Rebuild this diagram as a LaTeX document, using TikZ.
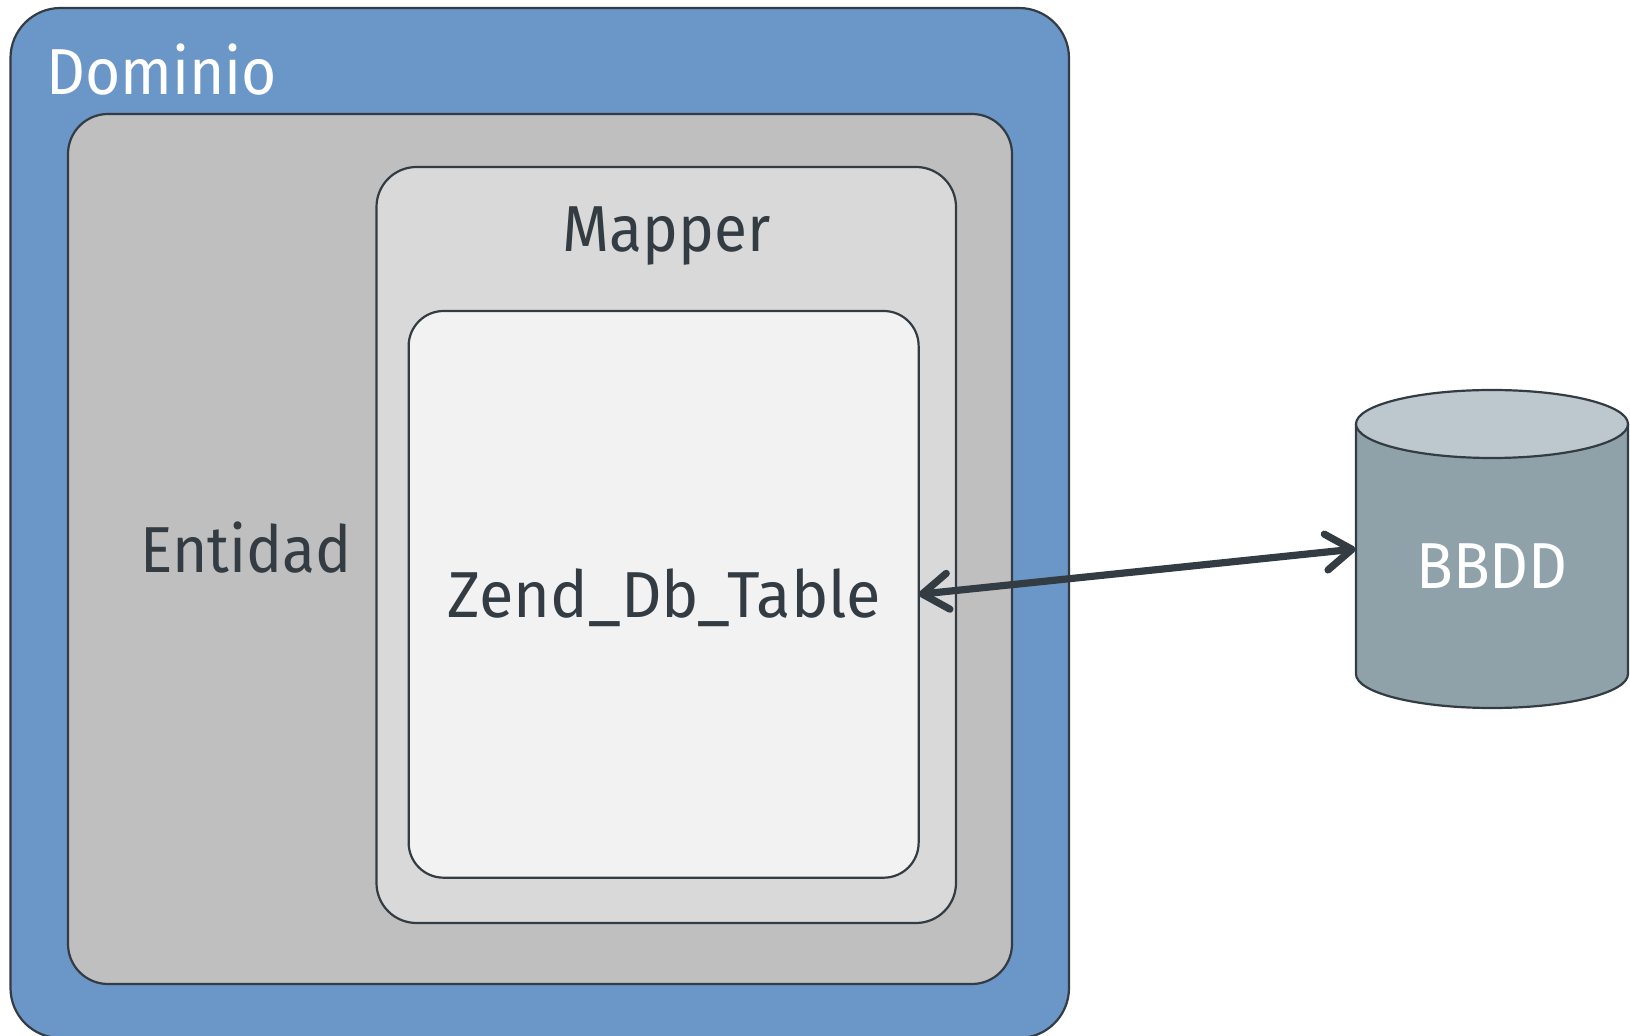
\documentclass[tikz,border=0pt]{standalone}
\usepackage{fontspec}
\setmainfont[FakeStretch=0.93]{Fira Sans}
\newfontfamily\tablefont[FakeStretch=0.97]{Fira Sans}
\usetikzlibrary{arrows.meta}
\definecolor{domblue}{HTML}{6B96C8}
\definecolor{entgray}{HTML}{BFBFBF}
\definecolor{mapgray}{HTML}{D9D9D9}
\definecolor{zendgray}{HTML}{F2F2F2}
\definecolor{edge}{HTML}{333C42}
\definecolor{dbbody}{HTML}{8FA2A9}
\definecolor{dbtop}{HTML}{BCC8CD}
\tikzset{
  layer/.style={draw=edge, line width=1.1pt, inner sep=0pt, outer sep=0pt},
  label/.style={inner sep=0pt, font=\fontsize{32.5}{39}\selectfont},
  barb/.tip={Straight Barb[length=13pt,width=18pt,round]},
  link/.style={draw=edge, line width=3.6pt, line cap=round, {barb}-{barb}}
}
\begin{document}
\begin{tikzpicture}[x=0.5pt,y=0.5pt]
\useasboundingbox (0,0) rectangle (1630,1035);
\clip (0,0) rectangle (1630,1035);
\fill[white] (0,0) rectangle (1630,1035);

% nested layers
\node[layer, fill=domblue, rounded corners=25pt, minimum width=529.25pt, minimum height=515pt] (dominio) at (539.75,512) {};
\node[layer, fill=entgray, rounded corners=20pt, minimum width=472pt, minimum height=435pt] (entidad) at (540,486) {};
\node[layer, fill=mapgray, rounded corners=20pt, minimum width=289.75pt, minimum height=378pt] (mapper) at (666.25,490) {};
\node[layer, fill=zendgray, rounded corners=17.5pt, minimum width=255pt, minimum height=283.35pt] (zend) at (663.65,440.65) {};

% layer titles
\node[label, text=white, anchor=base west] (domtitle) at (46,940) {Dominio};
\node[label, text=edge, anchor=base] (enttitle) at (246,462) {Entidad};
\node[label, text=edge, anchor=base] (maptitle) at (666.5,783) {Mapper};
\node[label, text=edge, anchor=base] (zendtitle) at (664.5,417) {\tablefont Zend\_Db\_Table};

% database cylinder
\fill[dbbody] (1356,611) -- (1356,361) arc[start angle=180, end angle=360, x radius=68pt, y radius=17pt] -- (1628,611) -- cycle;
\draw[edge, line width=1.1pt] (1356,611) -- (1356,361) arc[start angle=180, end angle=360, x radius=68pt, y radius=17pt] -- (1628,611);
\draw[edge, line width=1.1pt, fill=dbtop] (1492,611) ellipse[x radius=68pt, y radius=17pt];
\node[inner sep=0pt, minimum width=136pt, minimum height=125pt] (db) at (1492,486) {};
\node[label, text=white, anchor=base] (dbtitle) at (1492,446) {BBDD};

% connector
\draw[link] (zend.east) -- (db.west);
\end{tikzpicture}
\end{document}
